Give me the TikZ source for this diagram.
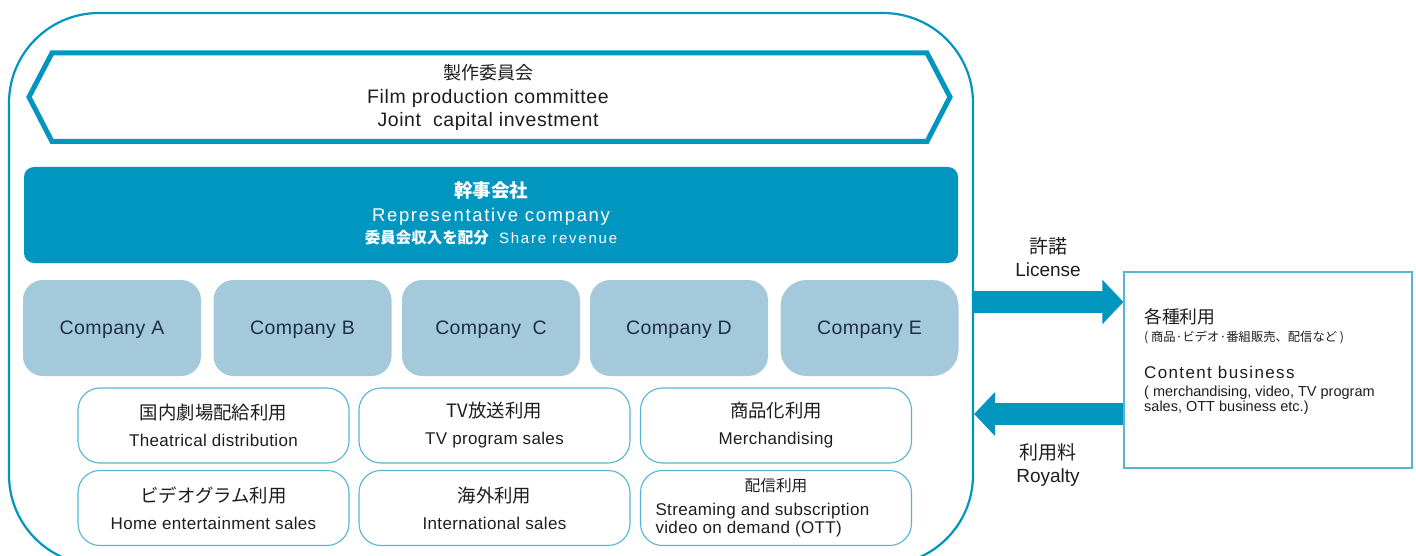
\documentclass[tikz,border=0pt]{standalone}
\usepackage{fontspec}
\setmainfont{Liberation Sans}
\newfontfamily\jpfont{Noto Sans CJK JP}
\newfontfamily\spA[LetterSpace=2.0]{Liberation Sans}
\newfontfamily\spB[LetterSpace=3.0]{Liberation Sans}
\newfontfamily\spRep[LetterSpace=9.0]{Liberation Sans}
\newfontfamily\spShare[LetterSpace=12.0]{Liberation Sans}
\newfontfamily\spContent[LetterSpace=8.0]{Liberation Sans}
\usepackage{xcolor}
\usepackage{tikz}
\usetikzlibrary{arrows.meta,positioning}

\definecolor{cblue}{RGB}{0,150,192}
\definecolor{clight}{RGB}{163,201,218}
\definecolor{cline}{RGB}{86,180,212}
\definecolor{cnavy}{RGB}{30,48,69}
\definecolor{ctext}{RGB}{30,30,30}

\begin{document}
\begin{tikzpicture}[
    x=1pt,y=-1pt,
    frame/.style={draw=cblue, line width=2.2pt, rounded corners=90pt, minimum width=964pt, minimum height=552pt, inner sep=0pt},
    hexa/.style={draw=cblue, line width=5pt, line join=miter},
    rep/.style={fill=cblue, rounded corners=10pt, minimum width=934pt, minimum height=96pt, inner sep=0pt},
    reptext/.style={align=center, text=white, inner sep=0pt, font=\fontsize{18.5}{24.5}\selectfont},
    company/.style={fill=clight, rounded corners=20pt, minimum width=178pt, minimum height=96pt, inner sep=0pt, text depth=0pt, text=cnavy, font=\spA\fontsize{19.5}{20}\selectfont},
    usebox/.style={draw=cline, line width=1.1pt, rounded corners=22pt, minimum width=271pt, minimum height=75pt, inner sep=0pt, align=center, text=ctext, font=\spA\fontsize{17}{27}\selectfont},
    outbox/.style={draw=cline, line width=1.1pt, minimum width=288pt, minimum height=196pt, inner sep=0pt},
    flow/.style={draw=cblue, line width=22pt, -{Triangle[length=21pt,width=43pt]}},
    lab/.style={align=center, text=ctext, font=\fontsize{19}{23}\selectfont},
    jp/.style={font=\jpfont\fontsize{18}{20}\selectfont}
  ]
    \path[fill=white] (0,0) rectangle (1416,556);
    \useasboundingbox (0,0) rectangle (1416,556);

    % outer frame
    \node[frame] (frame) at (491,289) {};

    % committee
    \draw[hexa] (29,97) -- (52,53) -- (927,53) -- (950,97) -- (927,141.5) -- (52,141.5) -- cycle;
    \node[align=center, text=ctext, font=\spB\fontsize{19.5}{23.5}\selectfont] (comm) at (488,97.5)
      {{\jpfont\fontsize{18}{20}\selectfont 製作委員会}\\Film production committee\\Joint\ \ capital investment};

    % representative company
    \node[rep] (rep) at (491,215) {};
    \node[reptext] (reptxt) at ([yshift=2pt]rep.center)
      {{\jpfont\bfseries 幹事会社}\\{\spRep Representative company}\\[-3pt]{\jpfont\bfseries\fontsize{15.5}{20}\selectfont 委員会収入を配分}\ \ {\spShare\fontsize{15}{20}\selectfont Share revenue}};

    % companies
    \node[company] (ca) at (112,328) {Company A};
    \node[company] (cb) at (302.5,328) {Company B};
    \node[company] (cc) at (491,328) {Company\ \ C};
    \node[company] (cd) at (679,328) {Company D};
    \node[company, rounded corners=26pt] (ce) at (869.5,328) {Company E};

    % uses
    \node[usebox] (u1) at (213.5,425.5) {{\jpfont\fontsize{18.4}{20}\selectfont 国内劇場配給利用}\\Theatrical distribution};
    \node[usebox] (u2) at (494.5,425.5) {{\jpfont\fontsize{18.4}{20}\selectfont TV放送利用}\\TV program sales};
    \node[usebox] (u3) at (776,425.5) {{\jpfont\fontsize{18.4}{20}\selectfont 商品化利用}\\Merchandising};
    \node[usebox] (u4) at (213.5,508) {{\jpfont\fontsize{18.4}{20}\selectfont ビデオグラム利用}\\Home entertainment sales};
    \node[usebox] (u5) at (494.5,508) {{\jpfont\fontsize{18.4}{20}\selectfont 海外利用}\\International sales};
    \node[usebox] (u6) at (776,508) {};
    \node[jp, font=\jpfont\fontsize{15.7}{18}\selectfont, text=ctext] (u6a) at (776,486) {配信利用};
    \node[anchor=west, align=left, text=ctext, font=\spA\fontsize{17}{18}\selectfont] (u6b) at (652,520)
      {Streaming and subscription\\video on demand (OTT)};

    % content business
    \node[outbox] (content) at (1268,370) {};
    \node[anchor=west, inner sep=0pt, text=ctext, font=\jpfont\fontsize{17.8}{20}\selectfont] (c1) at (1144,317) {各種利用};
    \node[anchor=west, inner sep=0pt, text=ctext, font=\jpfont\fontsize{12.3}{14}\selectfont] (c2) at (1144,337) {( 商品·ビデオ·番組販売、配信など )};
    \node[anchor=west, inner sep=0pt, text=ctext, font=\spContent\fontsize{17}{20}\selectfont] (c3) at (1144,372) {Content business};
    \node[anchor=west, inner sep=0pt, align=left, text=ctext, font=\fontsize{14.5}{15.5}\selectfont] (c4) at (1144,400)
      {( merchandising, video, TV program\\sales, OTT business etc.)};

    % license and royalty
    \draw[flow] (frame.east |- 0,302) -- (content.west |- 0,302);
    \draw[flow] (content.west |- 0,414) -- (frame.east |- 0,414);
    \node[lab] (lic) at (1048,257) {{\jpfont 許諾}\\License};
    \node[lab] (roy) at (1048,465) {{\jpfont 利用料}\\Royalty};
  \end{tikzpicture}
\end{document}
